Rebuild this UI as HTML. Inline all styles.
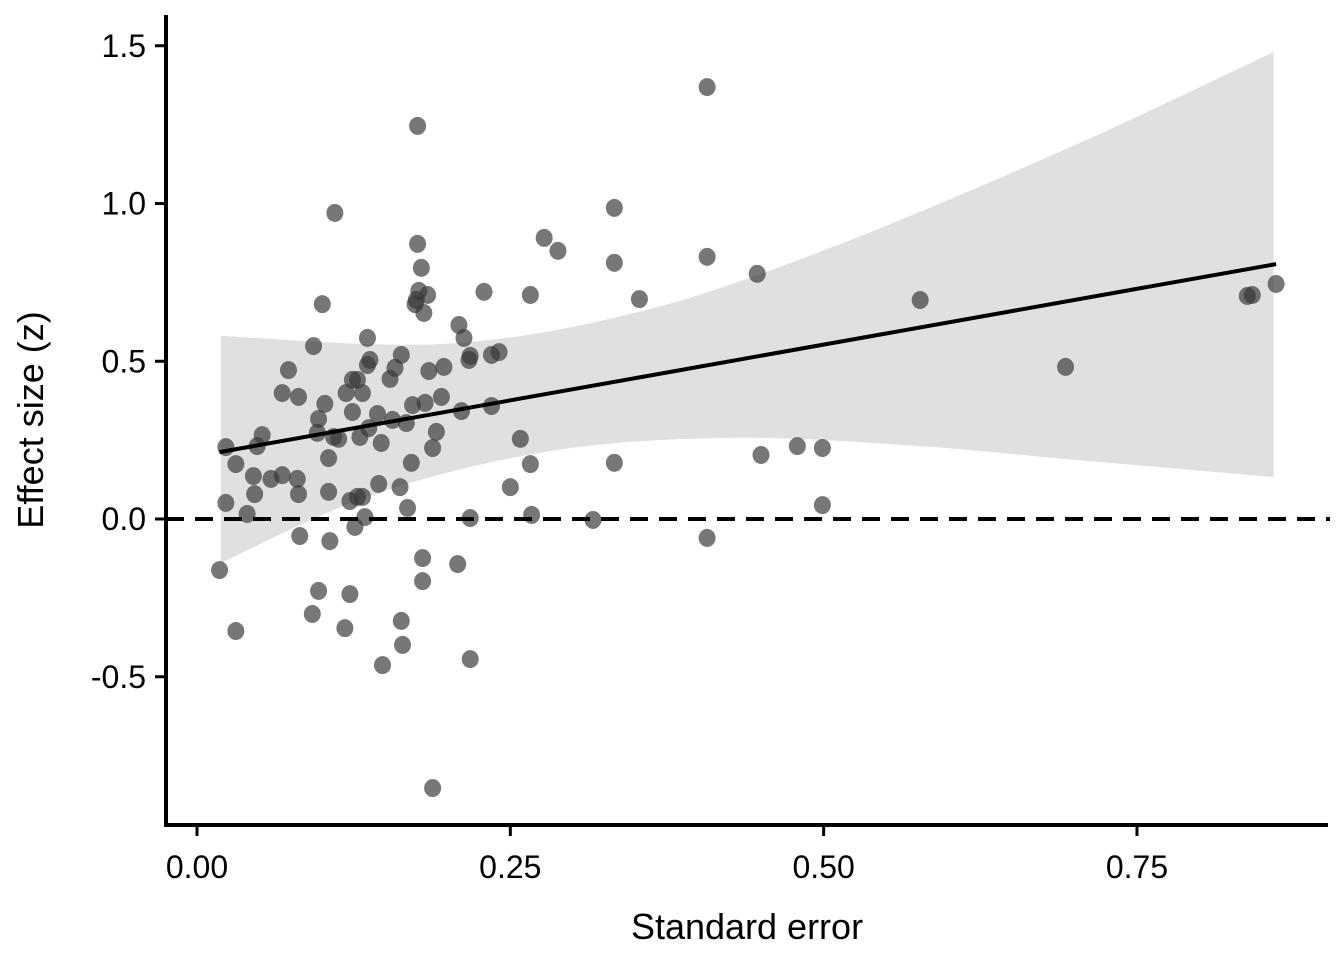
<!DOCTYPE html>
<html><head><meta charset="utf-8"><style>
body{margin:0;background:#fff}
svg{display:block;font-family:"Liberation Sans",Arial,sans-serif}
</style></head><body>
<svg id="chart" width="1344" height="960">
<g id="band"></g>
<g id="pts"></g>
<g id="lines"></g>
<g id="axes"></g>
<text x="747" y="939" style="font-size:36px" text-anchor="middle">Standard error</text>
<text transform="translate(43,420) rotate(-90)" style="font-size:36px" text-anchor="middle">Effect size (z)</text>
</svg>
<script>
const xs=[0.018,0.023,0.023,0.031,0.031,0.040,0.045,0.046,0.048,0.052,0.059,0.068,0.068,0.073,0.080,0.081,0.081,0.082,0.092,0.093,0.096,0.097,0.097,0.100,0.102,0.105,0.105,0.106,0.109,0.110,0.113,0.118,0.119,0.122,0.122,0.124,0.124,0.126,0.128,0.128,0.130,0.132,0.132,0.134,0.136,0.136,0.137,0.138,0.144,0.145,0.147,0.148,0.154,0.156,0.158,0.162,0.163,0.163,0.164,0.167,0.168,0.171,0.172,0.174,0.175,0.176,0.176,0.177,0.179,0.180,0.180,0.181,0.182,0.184,0.185,0.188,0.188,0.191,0.195,0.197,0.208,0.209,0.211,0.213,0.217,0.218,0.218,0.218,0.229,0.235,0.235,0.241,0.250,0.258,0.266,0.266,0.267,0.277,0.288,0.316,0.333,0.333,0.333,0.353,0.407,0.407,0.407,0.447,0.450,0.479,0.499,0.499,0.577,0.693,0.838,0.842,0.861];
const ys=[-0.162,0.228,0.051,0.174,-0.355,0.016,0.136,0.079,0.231,0.266,0.127,0.139,0.399,0.472,0.127,0.387,0.079,-0.054,-0.301,0.548,0.273,-0.228,0.317,0.681,0.365,0.193,0.086,-0.070,0.260,0.970,0.254,-0.346,0.399,-0.238,0.057,0.441,0.339,-0.025,0.070,0.441,0.260,0.399,0.070,0.006,0.574,0.488,0.288,0.504,0.333,0.111,0.241,-0.463,0.444,0.314,0.479,0.101,0.520,-0.323,-0.399,0.304,0.035,0.178,0.361,0.681,0.694,1.246,0.872,0.723,0.796,-0.124,-0.197,0.653,0.368,0.710,0.469,0.225,-0.853,0.276,0.387,0.482,-0.143,0.615,0.342,0.574,0.504,-0.444,0.517,0.003,0.720,0.520,0.358,0.529,0.101,0.254,0.710,0.174,0.013,0.891,0.850,-0.003,0.986,0.812,0.178,0.697,1.369,0.831,-0.060,0.777,0.203,0.231,0.225,0.044,0.694,0.482,0.707,0.710,0.745];
const bandUpX=[0.019,0.198,0.355,0.507,0.697,0.859];
const bandUpY=[0.580,0.555,0.659,0.862,1.179,1.480];
const bandLoX=[0.019,0.142,0.283,0.422,0.563,0.702,0.859];
const bandLoY=[-0.139,0.079,0.216,0.257,0.235,0.187,0.133];
const fitX=[0.018,0.861];
const fitY=[0.212,0.808];
const xTicks=[0,0.25,0.5,0.75];
const xTickLabels=["0.00","0.25","0.50","0.75"];
const yTicks=[1.5,1.0,0.5,0.0,-0.5];
const yTickLabels=["1.5","1.0","0.5","0.0","-0.5"];
const NS="http://www.w3.org/2000/svg";
const X=v=>197+v*1253.3, Y=v=>519-v*315.5;
function mk(tag,attrs,parent){const e=document.createElementNS(NS,tag);for(const k in attrs)e.setAttribute(k,attrs[k]);parent.appendChild(e);return e;}
function smooth(px,py){let d="";for(let i=0;i<px.length;i++){if(i==0){d+="M"+px[0]+","+py[0];continue;}const p0=i>1?i-2:i-1,p3=i+1<px.length?i+1:i;const c1x=px[i-1]+(px[i]-px[p0])/6,c1y=py[i-1]+(py[i]-py[p0])/6,c2x=px[i]-(px[p3]-px[i-1])/6,c2y=py[i]-(py[p3]-py[i-1])/6;d+=" C"+c1x+","+c1y+" "+c2x+","+c2y+" "+px[i]+","+py[i];}return d;}
const ux=bandUpX.map(X),uy=bandUpY.map(Y),lx=bandLoX.map(X).reverse(),ly=bandLoY.map(Y).reverse();
let d=smooth(ux,uy)+" L"+lx[0]+","+ly[0]+smooth(lx,ly).replace(/^M[^ ]+/,"")+" Z";
const band=mk("path",{d:d,fill:"#e0e0e0"},document.getElementById("band"));


const pg=document.getElementById("pts");
xs.forEach((v,i)=>{const c=mk("ellipse",{cx:X(v),cy:Y(ys[i]),rx:8.5,ry:9,fill:"rgba(55,55,55,0.68)"},pg);

});
const lg=document.getElementById("lines");
const zl=mk("line",{x1:166,x2:1330,y1:Y(0),y2:Y(0),stroke:"#000","stroke-width":4,"stroke-dasharray":"18 11"},lg);


const fl=mk("line",{x1:X(fitX[0]),y1:Y(fitY[0]),x2:X(fitX[1]),y2:Y(fitY[1]),stroke:"#000","stroke-width":4},lg);


const ag=document.getElementById("axes");
const ya=mk("line",{x1:166,x2:166,y1:15,y2:826,stroke:"#000","stroke-width":4},ag);


const xa=mk("line",{x1:164,x2:1328,y1:825,y2:825,stroke:"#000","stroke-width":4},ag);


yTicks.forEach((v,i)=>{const t=mk("line",{x1:155,x2:166,y1:Y(v),y2:Y(v),stroke:"#000","stroke-width":3},ag);


const l=mk("text",{x:146,y:Y(v)+11,style:"font-size:32px","text-anchor":"end"},ag);l.textContent=yTickLabels[i];

});
xTicks.forEach((v,i)=>{const t=mk("line",{x1:X(v),x2:X(v),y1:825,y2:836,stroke:"#000","stroke-width":3},ag);


const l=mk("text",{x:X(v),y:878,style:"font-size:32px","text-anchor":"middle"},ag);l.textContent=xTickLabels[i];

});
</script>
</body></html>
